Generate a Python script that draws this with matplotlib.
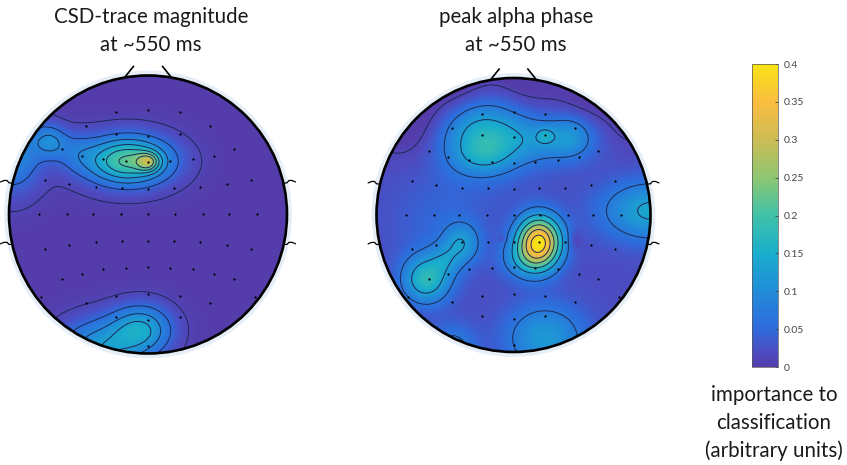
import numpy as np
import matplotlib
matplotlib.use('Agg')
import matplotlib.pyplot as plt
from matplotlib.colors import LinearSegmentedColormap, Normalize
from matplotlib.patches import Circle
from matplotlib.cm import ScalarMappable

W, H = 847, 465

# electrode positions on the unit head (nose up)
elec_x = [-0.23, 0.0, 0.23,
          -0.446, -0.23, 0.0, 0.23, 0.446,
          -0.619, -0.475, -0.324, -0.158, 0.0, 0.158, 0.324, 0.475, 0.619,
          -0.741, -0.568, -0.374, -0.187, 0.0, 0.187, 0.374, 0.568, 0.741,
          -0.784, -0.583, -0.396, -0.194, 0.0, 0.194, 0.396, 0.583, 0.784,
          -0.741, -0.568, -0.374, -0.187, 0.0, 0.187, 0.374, 0.568, 0.741,
          -0.619, -0.475, -0.324, -0.158, 0.0, 0.158, 0.324, 0.475, 0.619,
          -0.77, -0.446, -0.23, 0.0, 0.23, 0.446, 0.77,
          -0.23, 0.0, 0.23,
          0.0]
elec_y = [0.734, 0.754, 0.734,
          0.637, 0.581, 0.567, 0.581, 0.637,
          0.47, 0.422, 0.401, 0.388, 0.381, 0.388, 0.401, 0.422, 0.47,
          0.249, 0.221, 0.2, 0.194, 0.187, 0.194, 0.2, 0.221, 0.249,
          0.0, 0.0, 0.0, 0.0, 0.0, 0.0, 0.0, 0.0, 0.0,
          -0.249, -0.221, -0.2, -0.194, -0.194, -0.194, -0.2, -0.221, -0.249,
          -0.464, -0.429, -0.394, -0.388, -0.381, -0.388, -0.394, -0.429, -0.464,
          -0.595, -0.637, -0.588, -0.574, -0.588, -0.637, -0.595,
          -0.734, -0.761, -0.734,
          -0.948]

# importance sources: centre, peak value, spread (CSD-trace magnitude)
csd_x = [0.0, -0.144, -0.15, -0.705, -0.98, -0.525, -0.05, -0.35]
csd_y = [0.377, 0.384, 0.38, 0.523, 0.45, 0.45, -0.83, -0.98]
csd_amp = [0.13, 0.17, 0.05, 0.08, 0.1, 0.04, 0.13, 0.12]
csd_sx = [0.055, 0.2, 0.25, 0.08, 0.15, 0.1, 0.15, 0.2]
csd_sy = [0.045, 0.11, 0.15, 0.08, 0.2, 0.1, 0.12, 0.15]
csd_base = 0.0

# importance sources (peak alpha phase)
pha_x = [0.186, 0.1, 0.45, -0.084,
         -0.24, -0.22, 0.23, 0.2, 0.42, -0.25,
         -0.75, -0.4, 0.1, 0.55, 0.8,
         1.01, -0.64, -0.38, -0.5, 0.23, -0.45, -0.55]
pha_y = [-0.193, -0.33, -0.186, -0.172,
         0.6, 0.42, 0.58, 0.55, 0.58, 0.5,
         0.7, 0.95, 1.05, 0.9, 0.65,
         0.03, -0.47, -0.207, -0.33, -0.9, -0.98, -0.1]
pha_amp = [0.36, 0.08, -0.025, -0.02,
           0.11, 0.05, 0.05, 0.07, 0.05, 0.02,
           -0.04, -0.04, -0.04, -0.03, -0.02,
           0.12, 0.15, 0.09, 0.05, 0.1, 0.07, 0.025]
pha_sx = [0.11, 0.13, 0.035, 0.02,
          0.2, 0.15, 0.045, 0.28, 0.1, 0.35,
          0.2, 0.18, 0.18, 0.15, 0.15,
          0.25, 0.12, 0.09, 0.08, 0.2, 0.12, 0.25]
pha_sy = [0.125, 0.1, 0.05, 0.02,
          0.17, 0.09, 0.045, 0.12, 0.1, 0.3,
          0.2, 0.18, 0.18, 0.15, 0.15,
          0.15, 0.12, 0.1, 0.08, 0.17, 0.12, 0.25]
pha_base = 0.02

titles = ['CSD-trace magnitude\nat ~550 ms', 'peak alpha phase\nat ~550 ms']
cbar_ticks = [0, 0.05, 0.1, 0.15, 0.2, 0.25, 0.3, 0.35, 0.4]
cbar_label = 'importance to\nclassification\n(arbitrary units)'
csd_levels = [0.01, 0.05, 0.09, 0.13, 0.17, 0.21, 0.25]
pha_levels = [0.01, 0.07, 0.13, 0.19, 0.25, 0.31, 0.37]

cmap = LinearSegmentedColormap.from_list('parula_like', [
    (0.0, (0.33, 0.24, 0.67)),
    (0.05, (0.30, 0.30, 0.76)),
    (0.125, (0.18, 0.42, 0.86)),
    (0.25, (0.13, 0.55, 0.85)),
    (0.375, (0.10, 0.68, 0.80)),
    (0.5, (0.25, 0.76, 0.66)),
    (0.625, (0.55, 0.78, 0.45)),
    (0.75, (0.80, 0.74, 0.33)),
    (0.875, (0.98, 0.74, 0.25)),
    (1.0, (0.97, 0.89, 0.08))])
norm = Normalize(0, 0.4)

plt.rcParams['font.family'] = ['Lato', 'DejaVu Sans']
fig = plt.figure(figsize=(W / 100, H / 100), dpi=100)

g = np.linspace(-1, 1, 301)
X, Y = np.meshgrid(g, g)
inside = X**2 + Y**2 <= 1.0


def make_map(xs, ys, amps, sxs, sys_, base):
    Z = np.full_like(X, base)
    for x0, y0, a, sx, sy in zip(xs, ys, amps, sxs, sys_):
        Z += a * np.exp(-((X - x0)**2 / (2 * sx**2) + (Y - y0)**2 / (2 * sy**2)))
    return np.clip(Z, 0, None)


def head_axes(cx, cy, rx, ry, lim=1.08):
    return fig.add_axes([(cx - lim * rx) / W, (H - cy - lim * ry) / H,
                         2 * lim * rx / W, 2 * lim * ry / H])


maps = [make_map(csd_x, csd_y, csd_amp, csd_sx, csd_sy, csd_base),
        make_map(pha_x, pha_y, pha_amp, pha_sx, pha_sy, pha_base)]
heads = [(148, 214.5, 139, 144.5), (513.5, 215, 137, 145)]
title_x = [151, 516]

for Z, lev, (cx, cy, rx, ry), title, tx in zip(maps, [csd_levels, pha_levels], heads,
                                              titles, title_x):
    ax = head_axes(cx, cy, rx, ry)
    ax.set_xlim(-1.08, 1.08)
    ax.set_ylim(-1.08, 1.08)
    ax.axis('off')

    ax.add_patch(Circle((0, 0), 1.0, fill=False, ec='#e6eef8', lw=7, zorder=0))
    clip = Circle((0, 0), 1.0, transform=ax.transData)
    im = ax.imshow(Z, extent=(-1, 1, -1, 1), origin='lower', cmap=cmap, norm=norm,
                   interpolation='bilinear', zorder=1)
    im.set_clip_path(clip)
    Zm = np.where(inside, Z, np.nan)
    ax.contour(X, Y, Zm, levels=lev, colors='#1c2a55', linewidths=0.7, zorder=2)
    ax.plot(elec_x, elec_y, 'o', color='black', ms=1.6, mew=0, zorder=3)
    ax.add_patch(Circle((0, 0), 1.0, fill=False, ec='black', lw=1.9, zorder=4))

    # nose
    ax.plot([-0.165, -0.105], [0.99, 1.065], color='black', lw=1.2, clip_on=False)
    ax.plot([0.165, 0.105], [0.99, 1.065], color='black', lw=1.2, clip_on=False)
    # ear hooks
    for s in (-1, 1):
        ax.plot(s * np.array([0.975, 1.0, 1.015, 1.035, 1.06]),
                [0.225, 0.228, 0.245, 0.245, 0.235], color='black', lw=0.9)
        ax.plot(s * np.array([0.975, 1.0, 1.015, 1.035, 1.06]),
                [-0.215, -0.215, -0.2, -0.2, -0.21], color='black', lw=0.9)

    fig.text(tx / W, 1 - 31 / H, title, ha='center', va='center', fontsize=14.8,
             linespacing=1.5, color='#1a1a1a')

cax = fig.add_axes([752 / W, (H - 367) / H, 26 / W, 303 / H])
cb = fig.colorbar(ScalarMappable(norm=norm, cmap=cmap), cax=cax, ticks=cbar_ticks)
cb.ax.set_yticklabels([f'{t:g}' for t in cbar_ticks])
cb.ax.tick_params(labelsize=7.5, length=2.5, width=0.6, direction='in',
                  colors='#444444', pad=4)
cb.outline.set_linewidth(0.5)
cb.outline.set_edgecolor('#555555')

fig.text(774 / W, 1 - 423 / H, cbar_label, ha='center', va='center', fontsize=14.8,
         linespacing=1.5, color='#1a1a1a')

fig.savefig('out.png', dpi=100)
